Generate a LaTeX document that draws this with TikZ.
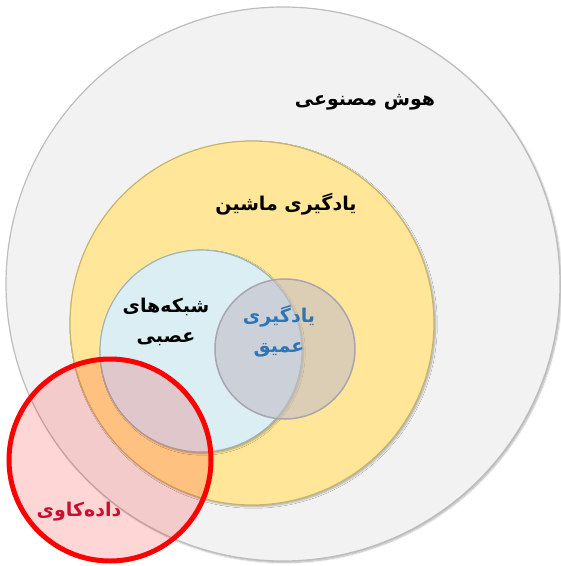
\documentclass[tikz,border=0pt]{standalone}
\usepackage{fontspec}
\TeXXeTstate=1
\newfontfamily\fa[Script=Arabic]{DejaVu Sans}
\usetikzlibrary{shadows.blur}
\definecolor{aifill}{HTML}{F2F2F2}
\definecolor{aiedge}{HTML}{BDBDBD}
\definecolor{mlfill}{HTML}{FFE699}
\definecolor{mledge}{HTML}{C9B46A}
\definecolor{nnfill}{HTML}{DAEEF3}
\definecolor{nnedge}{HTML}{9FB3B8}
\definecolor{dlfill}{HTML}{C4BFC8}
\definecolor{dledge}{HTML}{A9A4B0}
\definecolor{dlblue}{HTML}{2E75B6}
\definecolor{dmred}{HTML}{FF0000}
\definecolor{dmtext}{HTML}{C8102E}
\begin{document}
\begin{tikzpicture}[x=1pt,y=-1pt,
  ring/.style={circle,inner sep=0pt,line width=1.2pt,
    blur shadow={shadow xshift=1.5pt,shadow yshift=-1.5pt,shadow blur steps=6,shadow opacity=30}},
  lbl/.style={font=\fa\bfseries\fontsize{19}{30}\selectfont,align=center,inner sep=0pt}]
\useasboundingbox (0,0) rectangle (561,566);
\node[ring,draw=aiedge,fill=aifill,minimum size=554pt] (ai) at (283,284) {};
\node[ring,draw=mledge,fill=mlfill,minimum size=364pt] (ml) at (252,323) {};
\node[ring,draw=nnedge,fill=nnfill,minimum size=202pt] (nn) at (201,351) {};
\node[circle,inner sep=0pt,line width=1.5pt,draw=dledge,fill=dlfill,fill opacity=0.6,minimum size=140pt] (dl) at (285,349) {};
\node[circle,inner sep=0pt,line width=5pt,draw=dmred,fill=dmred,fill opacity=0.16,minimum size=202pt] (dm) at (110,460) {};
\node[lbl] (tai) at (365,102) {\beginR هوش مصنوعی\endR};
\node[lbl] (tml) at (286,204) {\beginR یادگیری ماشین\endR};
\node[lbl] (tnn) at (166,322) {\beginR شبکه‌های\endR\\\beginR عصبی\endR};
\node[lbl,text=dlblue] (tdl) at (279,331) {\beginR یادگیری\endR\\\beginR عمیق\endR};
\node[lbl,text=dmtext] (tdm) at (79,512) {\beginR داده‌کاوی\endR};
\end{tikzpicture}
\end{document}
